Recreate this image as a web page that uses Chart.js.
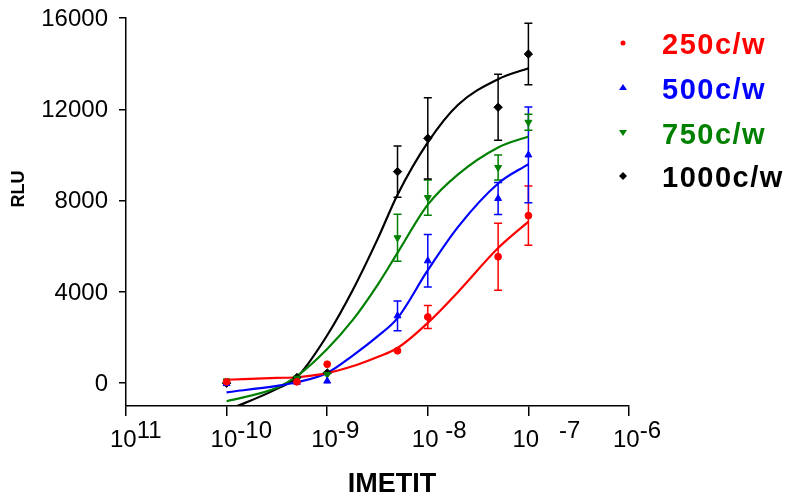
<!DOCTYPE html>
<html>
<head>
<meta charset="utf-8">
<script src="https://cdn.jsdelivr.net/npm/chart.js@4"></script>
<style>
  html, body { margin: 0; padding: 0; background: #fff; }
  #wrap { width: 789px; height: 495px; }
</style>
</head>
<body>
<div id="wrap"><canvas id="doseChart" width="789" height="495"></canvas></div>
<script>
// IMETIT dose response, 4 cell densities
const concentration = [1e-10, 5e-10, 1e-9, 5e-9, 1e-8, 5e-8, 1e-7];

const rlu250 = [60, 60, 830, 1420, 2900, 5540, 7340];
const err250 = [0, 0, 0, 0, 500, 1470, 1300];
const rlu500 = [-20, 40, 90, 2950, 5360, 8090, 10000];
const err500 = [0, 0, 0, 650, 1150, 700, 2100];
const rlu750 = [100, 220, 380, 6370, 8130, 9450, 11430];
const err750 = [0, 0, 0, 1030, 770, 550, 350];
const rlu1000 = [0, 250, 450, 9270, 10730, 12090, 14420];
const err1000 = [0, 0, 0, 1120, 1780, 1450, 1350];

// fitted curves
const fitX = [1e-10, 3.16e-10, 5e-10, 1e-9, 1.78e-9, 3.16e-9, 5e-9, 1e-8, 2e-8, 5e-8, 1e-7];
const fit250 = [150, 230, 260, 440, 740, 1150, 1540, 2640, 4000, 5920, 7080];
const fit500 = [-400, -120, 40, 450, 1200, 2050, 2850, 4950, 6850, 8750, 9600];
const fit750 = [-790, -200, 310, 1500, 2750, 4300, 5710, 7820, 9150, 10330, 10810];
const fit1000 = [-1200, -250, 260, 2100, 4050, 6300, 8260, 10550, 12200, 13320, 13800];

const seriesNames = ['250c/w', '500c/w', '750c/w', '1000c/w'];
const seriesColors = ['#ff0000', '#0000ff', '#008000', '#000000'];
const seriesMarkers = ['circle', 'triangle', 'triangle', 'rectRot'];
const markerRotation = [0, 0, 180, 0];

const xTicks = [1e-11, 1e-10, 1e-9, 1e-8, 1e-7, 1e-6];
const xTickExp = ['11', '-10', '-9', ' -8', '   -7', '-6'];
const yTicks = [0, 4000, 8000, 12000, 16000];

const FONT = "'Liberation Sans', Arial, sans-serif";

const pointSets = [rlu250, rlu500, rlu750, rlu1000];
const errSets = [err250, err500, err750, err1000];
const fitSets = [fit250, fit500, fit750, fit1000];

const toXY = (xs, ys) => xs.map((x, i) => ({ x: x, y: ys[i] }));

const datasets = [];
pointSets.forEach((vals, i) => {
    datasets.push({
        label: seriesNames[i],
        data: toXY(concentration, vals),
        showLine: false,
        pointStyle: seriesMarkers[i],
        rotation: markerRotation[i],
        pointRadius: i === 0 ? 3.4 : (i === 3 ? 4.2 : 4),
        backgroundColor: seriesColors[i],
        borderColor: seriesColors[i],
        borderWidth: 1,
        errors: errSets[i]
    });
});
fitSets.forEach((vals, i) => {
    datasets.push({
        label: seriesNames[i] + ' fit',
        data: toXY(fitX, vals),
        borderColor: seriesColors[i],
        borderWidth: 2.2,
        pointRadius: 0,
        fill: false,
        cubicInterpolationMode: 'monotone'
    });
});

const errorBars = {
    id: 'errorBars',
    beforeDatasetsDraw(chart) {
        const ctx = chart.ctx;
        const xs = chart.scales.x, ys = chart.scales.y;
        ctx.save();
        ctx.lineWidth = 1.5;
        chart.data.datasets.forEach(ds => {
            if (!ds.errors) return;
            ctx.strokeStyle = ds.borderColor;
            ds.data.forEach((p, j) => {
                const e = ds.errors[j];
                if (!e) return;
                const px = xs.getPixelForValue(p.x);
                const top = ys.getPixelForValue(p.y + e);
                const bot = ys.getPixelForValue(p.y - e);
                ctx.beginPath();
                ctx.moveTo(px, top); ctx.lineTo(px, bot);
                ctx.moveTo(px - 4, top); ctx.lineTo(px + 4, top);
                ctx.moveTo(px - 4, bot); ctx.lineTo(px + 4, bot);
                ctx.stroke();
            });
        });
        ctx.restore();
    }
};

const decorations = {
    id: 'decorations',
    afterDraw(chart) {
        const ctx = chart.ctx;
        const xs = chart.scales.x, ys = chart.scales.y;
        ctx.save();
        ctx.fillStyle = '#000';

        // y tick labels
        ctx.font = '24px ' + FONT;
        ctx.textAlign = 'right';
        ctx.textBaseline = 'middle';
        yTicks.forEach(v => {
            ctx.fillText(String(v), 108, ys.getPixelForValue(v) + 1);
        });

        // x tick labels with superscripts
        ctx.textBaseline = 'alphabetic';
        ctx.textAlign = 'left';
        xTicks.forEach((v, i) => {
            const px = xs.getPixelForValue(v);
            const left = px - 16;
            ctx.fillText('10', left, 447);
            const w = ctx.measureText('10').width;
            ctx.fillText(xTickExp[i], left + w, 438);
        });

        // axis titles
        ctx.font = 'bold 27px ' + FONT;
        ctx.textAlign = 'center';
        ctx.fillText('IMETIT', 392, 492);

        ctx.save();
        ctx.translate(24, 189);
        ctx.rotate(-Math.PI / 2);
        ctx.font = 'bold 18px ' + FONT;
        ctx.textAlign = 'center';
        ctx.fillText('RLU', 0, 0);
        ctx.restore();

        // legend
        const rowY = [45, 90, 135, 178];
        seriesNames.forEach((name, i) => {
            const y = rowY[i];
            ctx.fillStyle = seriesColors[i];
            ctx.beginPath();
            if (i === 0) {
                ctx.arc(623, y - 2, 2.5, 0, Math.PI * 2);
            } else if (i === 1) {
                ctx.moveTo(623, y - 6); ctx.lineTo(627, y); ctx.lineTo(619, y);
            } else if (i === 2) {
                ctx.moveTo(619, y - 5); ctx.lineTo(627, y - 5); ctx.lineTo(623, y + 1);
            } else {
                ctx.moveTo(623, y - 6); ctx.lineTo(627, y - 2); ctx.lineTo(623, y + 2); ctx.lineTo(619, y - 2);
            }
            ctx.closePath();
            ctx.fill();
            ctx.font = 'bold 29px ' + FONT;
            ctx.letterSpacing = '1.5px';
            ctx.textAlign = 'left';
            ctx.textBaseline = 'middle';
            ctx.fillText(name, 662, y + 1);
            ctx.letterSpacing = '0px';
        });
        ctx.restore();
    }
};

new Chart(document.getElementById('doseChart'), {
    type: 'line',
    data: { datasets: datasets },
    options: {
        responsive: false,
        animation: false,
        layout: { padding: { top: 18, right: 160, left: 0, bottom: 0 } },
        plugins: {
            legend: { display: false },
            tooltip: { enabled: false }
        },
        scales: {
            x: {
                type: 'logarithmic',
                min: 1e-11,
                max: 1e-6,
                afterBuildTicks: s => { s.ticks = xTicks.map(v => ({ value: v })); },
                afterFit: s => { s.height = 89; },
                ticks: { display: false },
                grid: { display: true, drawOnChartArea: false, tickLength: 10, color: '#000', lineWidth: 1.5 },
                border: { display: true, color: '#000', width: 1.5 }
            },
            y: {
                type: 'linear',
                min: -1000,
                max: 16000,
                afterBuildTicks: s => { s.ticks = yTicks.map(v => ({ value: v })); },
                afterFit: s => { s.width = 126; },
                ticks: { display: false },
                grid: { display: true, drawOnChartArea: false, tickLength: 7, color: '#000', lineWidth: 1.5 },
                border: { display: true, color: '#000', width: 1.5 }
            }
        }
    },
    plugins: [errorBars, decorations]
});
</script>
</body>
</html>
